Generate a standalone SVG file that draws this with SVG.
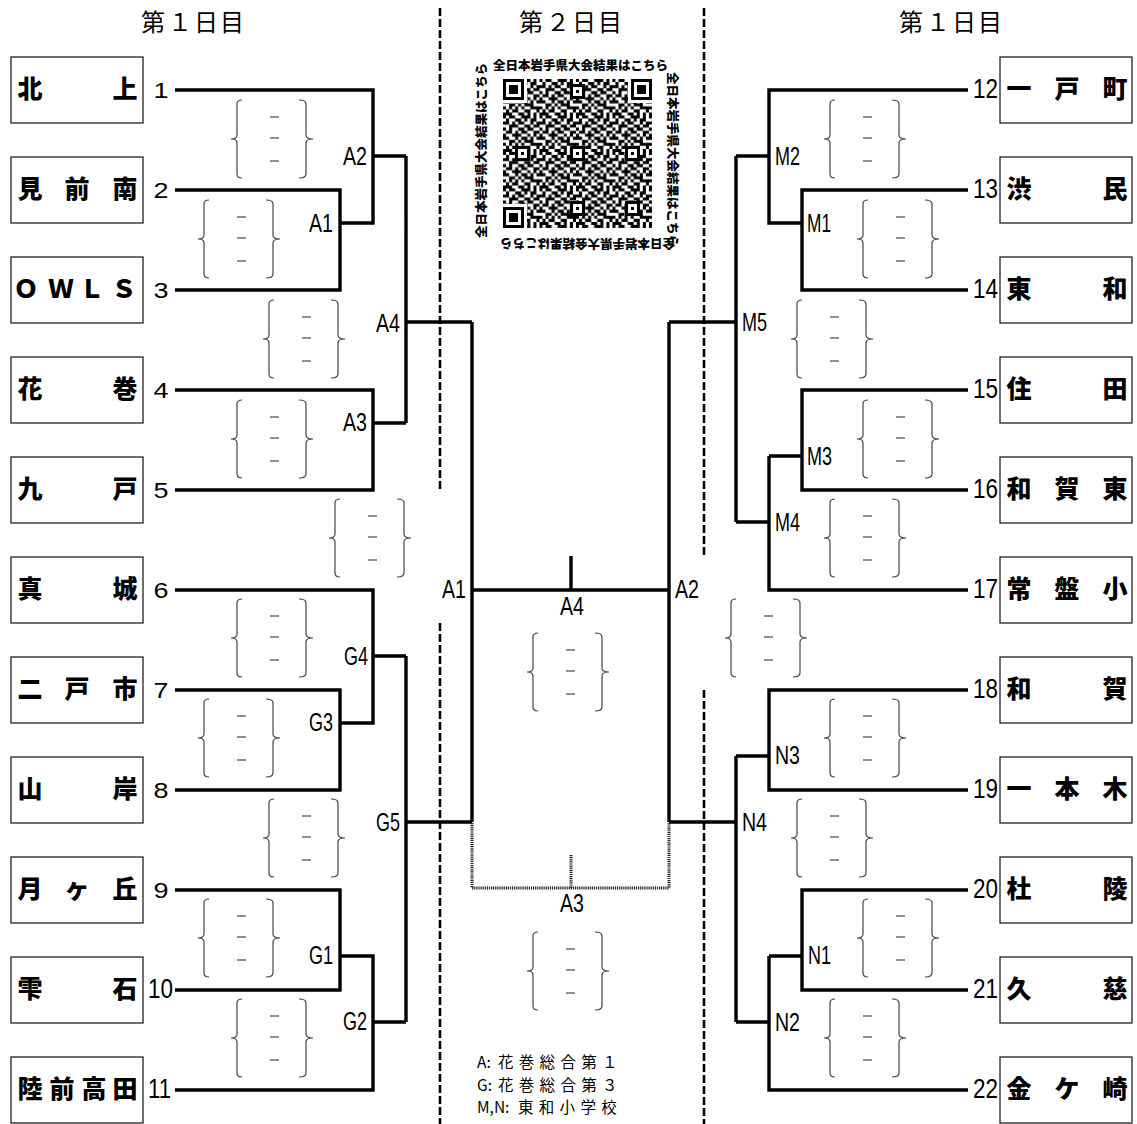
<svg xmlns="http://www.w3.org/2000/svg" xmlns:xlink="http://www.w3.org/1999/xlink" width="1137" height="1124" viewBox="0 0 1137 1124">
<style>
.box{fill:#fff;stroke:#222;stroke-width:1.3}
.nm{font-family:"Noto Sans CJK JP","Noto Sans CJK SC",sans-serif;font-weight:900;font-size:25px;text-anchor:middle;fill:#000}
.hd{font-family:"Noto Sans CJK JP","Noto Sans CJK SC",sans-serif;font-size:24px;text-anchor:middle;fill:#000}
.num{font-family:"Liberation Sans",Arial,sans-serif;font-size:22px;fill:#000}
.num2{font-family:"Liberation Sans",Arial,sans-serif;font-size:27px;fill:#000}
.lbl{font-family:"Liberation Sans",Arial,sans-serif;font-size:25px;fill:#000}
.ln{fill:none;stroke:#000;stroke-width:3.4}
.dot{fill:none;stroke:#222;stroke-width:3;stroke-dasharray:1.2 0.9}
.dv{fill:none;stroke:#000;stroke-width:2.6;stroke-dasharray:8 3}
.brc{fill:none;stroke:#444;stroke-width:1.2}
.dsh{fill:none;stroke:#222;stroke-width:1.2}
.qt{font-family:"Noto Sans CJK JP","Noto Sans CJK SC",sans-serif;font-weight:900;font-size:12.5px;fill:#000}
.leg{font-family:"Noto Sans CJK JP","Noto Sans CJK SC",sans-serif;font-size:15.5px;fill:#000}
.legc{letter-spacing:5.3px}
</style>
<defs>
<g id="br">
<path class="brc" d="M11,-39 Q6,-39 6,-35 V-4 Q6,0 0,0 Q6,0 6,4 V35 Q6,39 11,39"/>
<path class="brc" d="M68,-39 Q75,-39 75,-35 V-4 Q75,0 82,0 Q75,0 75,4 V35 Q75,39 68,39"/>
<path class="dsh" d="M39,-22h9M39,-1h9M39,22h9"/>
</g>
<pattern id="qrp" width="12" height="12" patternUnits="userSpaceOnUse" patternTransform="translate(503,79) scale(3.04)">
<path fill="#000" d="M0 0h1v1h-1z M2 0h2v1h-2z M6 0h3v1h-3z M10 0h1v1h-1z M1 1h1v1h-1z M4 1h2v1h-2z M7 1h1v1h-1z M9 1h2v1h-2z M0 2h2v1h-2z M3 2h1v1h-1z M5 2h2v1h-2z M9 2h1v1h-1z M11 2h1v1h-1z M2 3h3v1h-3z M7 3h2v1h-2z M10 3h2v1h-2z M0 4h1v1h-1z M2 4h1v1h-1z M5 4h2v1h-2z M8 4h2v1h-2z M1 5h2v1h-2z M4 5h1v1h-1z M6 5h2v1h-2z M10 5h2v1h-2z M0 6h1v1h-1z M3 6h3v1h-3z M8 6h1v1h-1z M10 6h1v1h-1z M0 7h2v1h-2z M4 7h1v1h-1z M6 7h2v1h-2z M9 7h1v1h-1z M11 7h1v1h-1z M2 8h2v1h-2z M5 8h1v1h-1z M7 8h3v1h-3z M0 9h1v1h-1z M2 9h1v1h-1z M4 9h1v1h-1z M6 9h1v1h-1z M9 9h3v1h-3z M1 10h1v1h-1z M3 10h2v1h-2z M7 10h2v1h-2z M11 10h1v1h-1z M0 11h3v1h-3z M5 11h2v1h-2z M8 11h1v1h-1z M10 11h1v1h-1z"/>
</pattern>
<g id="finder">
<rect x="0" y="0" width="21.3" height="21.3" fill="#000"/>
<rect x="3.04" y="3.04" width="15.2" height="15.2" fill="#fff"/>
<rect x="6.08" y="6.08" width="9.12" height="9.12" fill="#000"/>
</g>
<g id="align">
<rect x="0" y="0" width="15.2" height="15.2" fill="#000"/>
<rect x="3.04" y="3.04" width="9.12" height="9.12" fill="#fff"/>
<rect x="6.08" y="6.08" width="3.04" height="3.04" fill="#000"/>
</g>
</defs>

<rect x="0" y="0" width="1137" height="1124" fill="#fff"/>

<g id="headers">
<text class="hd" x="153 180 206 232" y="31">第１日目</text>
<text class="hd" x="531 558 584 610" y="31">第２日目</text>
<text class="hd" x="911 938 964 990" y="31">第１日目</text>
</g>

<g id="dividers">
<path class="dv" d="M440,8V492M440,623V1124M704,8V557M704,690V1124"/>
</g>

<g id="qr">
<g shape-rendering="crispEdges">
<rect x="503" y="79" width="149" height="149" fill="url(#qrp)"/>
<rect x="503" y="79" width="24.3" height="24.3" fill="#fff"/>
<rect x="627.7" y="79" width="24.3" height="24.3" fill="#fff"/>
<rect x="503" y="203.7" width="24.3" height="24.3" fill="#fff"/>
<use xlink:href="#finder" x="503" y="79"/>
<use xlink:href="#finder" x="630.7" y="79"/>
<use xlink:href="#finder" x="503" y="206.7"/>
<use xlink:href="#align" x="569.9" y="84.2"/>
<use xlink:href="#align" x="515.2" y="145.9"/>
<use xlink:href="#align" x="569.9" y="145.9"/>
<use xlink:href="#align" x="624.6" y="145.9"/>
<use xlink:href="#align" x="569.9" y="200.6"/>
<use xlink:href="#align" x="624.6" y="200.6"/>
</g>
<text class="qt" x="493" y="70">全日本岩手県大会結果はこちら</text>
<text class="qt" transform="translate(668,72) rotate(90)">全日本岩手県大会結果はこちら</text>
<text class="qt" transform="translate(675,239) rotate(180)">全日本岩手県大会結果はこちら</text>
<text class="qt" transform="translate(486,238) rotate(-90)">全日本岩手県大会結果はこちら</text>
</g>

<g id="connectors">
<path class="ln" d="M175,90H373V223H340M175,190H340V290H175M373,156H406M175,390H373V490H175M373,423H406M406,156V423M406,322H472"/>
<path class="ln" d="M175,590H373V723H340M175,690H340V790H175M373,656H406M175,890H340V990H175M340,956H373V1090H175M373,1022H406M406,656V1022M406,822H472"/>
<path class="ln" d="M472,322V822M669,322V822M472,590H669M571,556V590"/>
<path class="dot" d="M472,823V888H669V823M571,855V888"/>
<path class="ln" d="M968,90H769V223H802M968,190H802V290H968M769,156H736M968,390H802V490H968M802,456H769M769,456V590H968M769,522H736M736,156V522M736,322H669"/>
<path class="ln" d="M968,690H769V790H968M769,756H736M968,890H802V990H968M802,956H769M769,956V1090H968M769,1022H736M736,756V1022M736,822H669"/>
</g>

<g id="match-labels">
<text class="lbl" x="343" y="165" textLength="24" lengthAdjust="spacingAndGlyphs">A2</text>
<text class="lbl" x="309" y="232" textLength="24" lengthAdjust="spacingAndGlyphs">A1</text>
<text class="lbl" x="376" y="332" textLength="24" lengthAdjust="spacingAndGlyphs">A4</text>
<text class="lbl" x="343" y="431" textLength="24" lengthAdjust="spacingAndGlyphs">A3</text>
<text class="lbl" x="344" y="665" textLength="24" lengthAdjust="spacingAndGlyphs">G4</text>
<text class="lbl" x="309" y="731" textLength="24" lengthAdjust="spacingAndGlyphs">G3</text>
<text class="lbl" x="376" y="831" textLength="24" lengthAdjust="spacingAndGlyphs">G5</text>
<text class="lbl" x="309" y="964" textLength="24" lengthAdjust="spacingAndGlyphs">G1</text>
<text class="lbl" x="343" y="1030" textLength="24" lengthAdjust="spacingAndGlyphs">G2</text>
<text class="lbl" x="442" y="598" textLength="24" lengthAdjust="spacingAndGlyphs">A1</text>
<text class="lbl" x="675" y="598" textLength="24" lengthAdjust="spacingAndGlyphs">A2</text>
<text class="lbl" x="560" y="615" textLength="24" lengthAdjust="spacingAndGlyphs">A4</text>
<text class="lbl" x="560" y="912" textLength="24" lengthAdjust="spacingAndGlyphs">A3</text>
<text class="lbl" x="775" y="165" textLength="25" lengthAdjust="spacingAndGlyphs">M2</text>
<text class="lbl" x="807" y="232" textLength="24" lengthAdjust="spacingAndGlyphs">M1</text>
<text class="lbl" x="742" y="331" textLength="25" lengthAdjust="spacingAndGlyphs">M5</text>
<text class="lbl" x="807" y="465" textLength="25" lengthAdjust="spacingAndGlyphs">M3</text>
<text class="lbl" x="775" y="531" textLength="25" lengthAdjust="spacingAndGlyphs">M4</text>
<text class="lbl" x="775" y="764" textLength="25" lengthAdjust="spacingAndGlyphs">N3</text>
<text class="lbl" x="742" y="831" textLength="25" lengthAdjust="spacingAndGlyphs">N4</text>
<text class="lbl" x="808" y="964" textLength="23" lengthAdjust="spacingAndGlyphs">N1</text>
<text class="lbl" x="775" y="1031" textLength="25" lengthAdjust="spacingAndGlyphs">N2</text>
</g>

<g id="score-braces">
<use xlink:href="#br" x="231" y="139"/>
<use xlink:href="#br" x="198" y="239"/>
<use xlink:href="#br" x="263" y="339"/>
<use xlink:href="#br" x="231" y="439"/>
<use xlink:href="#br" x="329" y="538"/>
<use xlink:href="#br" x="231" y="638"/>
<use xlink:href="#br" x="198" y="738"/>
<use xlink:href="#br" x="263" y="838"/>
<use xlink:href="#br" x="198" y="938"/>
<use xlink:href="#br" x="231" y="1038"/>
<use xlink:href="#br" x="527" y="672"/>
<use xlink:href="#br" x="527" y="971"/>
<use xlink:href="#br" x="824" y="139"/>
<use xlink:href="#br" x="857" y="239"/>
<use xlink:href="#br" x="791" y="339"/>
<use xlink:href="#br" x="857" y="439"/>
<use xlink:href="#br" x="824" y="538"/>
<use xlink:href="#br" x="725" y="638"/>
<use xlink:href="#br" x="824" y="738"/>
<use xlink:href="#br" x="791" y="838"/>
<use xlink:href="#br" x="857" y="938"/>
<use xlink:href="#br" x="824" y="1038"/>
</g>

<g id="team-1"><rect class="box" x="11" y="57" width="132" height="66"/><text class="nm" x="30 125" y="98">北上</text><text class="num" x="153.5" y="97.5" textLength="15" lengthAdjust="spacingAndGlyphs">1</text></g>
<g id="team-2"><rect class="box" x="11" y="157" width="132" height="66"/><text class="nm" x="30 77 125" y="198">見前南</text><text class="num" x="153.5" y="197.5" textLength="15" lengthAdjust="spacingAndGlyphs">2</text></g>
<g id="team-3"><rect class="box" x="11" y="257" width="132" height="66"/><text class="nm" x="26 61 92 124" y="298">ＯＷＬＳ</text><text class="num" x="153.5" y="297.5" textLength="15" lengthAdjust="spacingAndGlyphs">3</text></g>
<g id="team-4"><rect class="box" x="11" y="357" width="132" height="66"/><text class="nm" x="30 125" y="398">花巻</text><text class="num" x="153.5" y="397.5" textLength="15" lengthAdjust="spacingAndGlyphs">4</text></g>
<g id="team-5"><rect class="box" x="11" y="457" width="132" height="66"/><text class="nm" x="30 125" y="498">九戸</text><text class="num" x="153.5" y="497.5" textLength="15" lengthAdjust="spacingAndGlyphs">5</text></g>
<g id="team-6"><rect class="box" x="11" y="557" width="132" height="66"/><text class="nm" x="30 125" y="598">真城</text><text class="num" x="153.5" y="597.5" textLength="15" lengthAdjust="spacingAndGlyphs">6</text></g>
<g id="team-7"><rect class="box" x="11" y="657" width="132" height="66"/><text class="nm" x="30 77 125" y="698">二戸市</text><text class="num" x="153.5" y="697.5" textLength="15" lengthAdjust="spacingAndGlyphs">7</text></g>
<g id="team-8"><rect class="box" x="11" y="757" width="132" height="66"/><text class="nm" x="30 125" y="798">山岸</text><text class="num" x="153.5" y="797.5" textLength="15" lengthAdjust="spacingAndGlyphs">8</text></g>
<g id="team-9"><rect class="box" x="11" y="857" width="132" height="66"/><text class="nm" x="30 77 125" y="898">月ヶ丘</text><text class="num" x="153.5" y="897.5" textLength="15" lengthAdjust="spacingAndGlyphs">9</text></g>
<g id="team-10"><rect class="box" x="11" y="957" width="132" height="66"/><text class="nm" x="30 125" y="998">雫石</text><text class="num2" x="148" y="998" textLength="25" lengthAdjust="spacingAndGlyphs">10</text></g>
<g id="team-11"><rect class="box" x="11" y="1057" width="132" height="66"/><text class="nm" x="30 62 94 125" y="1098">陸前高田</text><text class="num2" x="148" y="1098" textLength="23" lengthAdjust="spacingAndGlyphs">11</text></g>

<g id="team-12"><rect class="box" x="1000" y="57" width="132" height="66"/><text class="nm" x="1019 1067 1115" y="98">一戸町</text><text class="num2" x="973" y="98" textLength="25" lengthAdjust="spacingAndGlyphs">12</text></g>
<g id="team-13"><rect class="box" x="1000" y="157" width="132" height="66"/><text class="nm" x="1019 1115" y="198">渋民</text><text class="num2" x="973" y="198" textLength="25" lengthAdjust="spacingAndGlyphs">13</text></g>
<g id="team-14"><rect class="box" x="1000" y="257" width="132" height="66"/><text class="nm" x="1019 1115" y="298">東和</text><text class="num2" x="973" y="298" textLength="25" lengthAdjust="spacingAndGlyphs">14</text></g>
<g id="team-15"><rect class="box" x="1000" y="357" width="132" height="66"/><text class="nm" x="1019 1115" y="398">住田</text><text class="num2" x="973" y="398" textLength="25" lengthAdjust="spacingAndGlyphs">15</text></g>
<g id="team-16"><rect class="box" x="1000" y="457" width="132" height="66"/><text class="nm" x="1019 1067 1115" y="498">和賀東</text><text class="num2" x="973" y="498" textLength="25" lengthAdjust="spacingAndGlyphs">16</text></g>
<g id="team-17"><rect class="box" x="1000" y="557" width="132" height="66"/><text class="nm" x="1019 1067 1115" y="598">常盤小</text><text class="num2" x="973" y="598" textLength="25" lengthAdjust="spacingAndGlyphs">17</text></g>
<g id="team-18"><rect class="box" x="1000" y="657" width="132" height="66"/><text class="nm" x="1019 1115" y="698">和賀</text><text class="num2" x="973" y="698" textLength="25" lengthAdjust="spacingAndGlyphs">18</text></g>
<g id="team-19"><rect class="box" x="1000" y="757" width="132" height="66"/><text class="nm" x="1019 1067 1115" y="798">一本木</text><text class="num2" x="973" y="798" textLength="25" lengthAdjust="spacingAndGlyphs">19</text></g>
<g id="team-20"><rect class="box" x="1000" y="857" width="132" height="66"/><text class="nm" x="1019 1115" y="898">杜陵</text><text class="num2" x="973" y="898" textLength="25" lengthAdjust="spacingAndGlyphs">20</text></g>
<g id="team-21"><rect class="box" x="1000" y="957" width="132" height="66"/><text class="nm" x="1019 1115" y="998">久慈</text><text class="num2" x="973" y="998" textLength="25" lengthAdjust="spacingAndGlyphs">21</text></g>
<g id="team-22"><rect class="box" x="1000" y="1057" width="132" height="66"/><text class="nm" x="1019 1067 1115" y="1098">金ケ崎</text><text class="num2" x="973" y="1098" textLength="25" lengthAdjust="spacingAndGlyphs">22</text></g>

<g id="legend">
<text class="leg" x="477" y="1068">A:<tspan class="legc" x="498">花巻総合第１</tspan></text>
<text class="leg" x="477" y="1090.5">G:<tspan class="legc" x="498">花巻総合第３</tspan></text>
<text class="leg" x="477" y="1113">M,N:<tspan class="legc" x="518">東和小学校</tspan></text>
</g>
</svg>
